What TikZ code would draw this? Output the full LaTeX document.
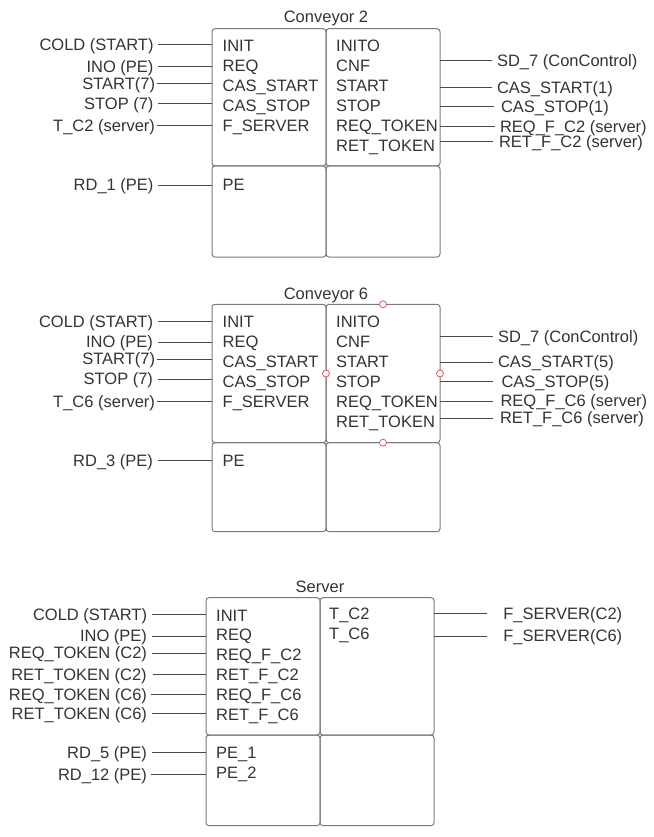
\documentclass[tikz,border=0pt]{standalone}
\usepackage{fontspec}
\setmainfont{Liberation Sans}
\definecolor{txt}{HTML}{333333}
\definecolor{wirec}{HTML}{4A4A4A}
\definecolor{boxc}{HTML}{7A7A7A}
\definecolor{hand}{HTML}{E8505B}
\begin{document}
\begin{tikzpicture}[x=1pt,y=-1pt,
  box/.style={draw=boxc,line width=1pt,rounded corners=3pt,inner sep=0pt,outer sep=0pt,minimum width=114pt,anchor=north west},
  lab/.style={font=\fontsize{16.5}{19}\selectfont,text=txt,inner sep=0pt,text height=11.8pt,text depth=0pt},
  lw/.style={lab,anchor=west},
  le/.style={lab,anchor=east,outer xsep=4.5pt},
  re/.style={lab,anchor=west,outer xsep=#1},
  wire/.style={draw=wirec,line width=1pt},
  handle/.style={circle,draw=hand,fill=white,line width=0.8pt,minimum size=7pt,inner sep=0pt}]
\useasboundingbox (0,0) rectangle (653,837);

% ================= Conveyor 2 =================
\node[lab] (t2) at (326,16.7) {Conveyor 2};
\node[box,minimum height=137.3pt] (c2a) at (212,28.7) {};
\node[box,minimum height=137.3pt] (c2b) at (326,28.7) {};
\node[box,minimum height=91pt] (c2c) at (212,166) {};
\node[box,minimum height=91pt] (c2d) at (326,166) {};

\node[lw] (c2i1) at (222.5,45.5) {INIT};
\node[lw] (c2i2) at (222.5,66) {REQ};
\node[lw] (c2i3) at (222.5,86) {CAS\_START};
\node[lw] (c2i4) at (222.5,106) {CAS\_STOP};
\node[lw] (c2i5) at (222.5,126) {F\_SERVER};
\node[lw] (c2i6) at (222.5,185) {PE};
\node[lw] (c2o1) at (336,45.5) {INITO};
\node[lw] (c2o2) at (336,66) {CNF};
\node[lw] (c2o3) at (336,86) {START};
\node[lw] (c2o4) at (336,106) {STOP};
\node[lw] (c2o5) at (336,126) {REQ\_TOKEN};
\node[lw] (c2o6) at (336,146) {RET\_TOKEN};

\node[le] (c2l1) at (158,45) {COLD (START)};
\node[le] (c2l2) at (158,67) {INO (PE)};
\node[le,outer xsep=2pt] (c2l3) at (157,84) {START(7)};
\node[le] (c2l4) at (158,104) {STOP (7)};
\node[le,outer xsep=2pt] (c2l5) at (157,126) {T\_C2 (server)};
\node[le] (c2l6) at (158,185) {RD\_1 (PE)};
\foreach \n in {1,...,5}{\draw[wire] (c2l\n.east) -- (c2l\n.east -| c2a.west);}
\draw[wire] (c2l6.east) -- (c2l6.east -| c2c.west);

\node[re=5pt] (c2r1) at (492,61) {SD\_7 (ConControl)};
\node[re=5pt] (c2r2) at (492,88) {CAS\_START(1)};
\node[re=7pt] (c2r3) at (494,106.7) {CAS\_STOP(1)};
\node[re=5pt] (c2r4) at (495,126.3) {REQ\_F\_C2 (server)};
\node[re=6pt] (c2r5) at (493,142) {RET\_F\_C2 (server)};
\foreach \n in {1,...,5}{\draw[wire] (c2r\n.west -| c2b.east) -- (c2r\n.west);}

% ================= Conveyor 6 =================
\node[lab] (t6) at (326,293.3) {Conveyor 6};
\node[box,minimum height=138.4pt] (c6a) at (212,304.3) {};
\node[box,minimum height=138.4pt] (c6b) at (326,304.3) {};
\node[box,minimum height=89pt] (c6c) at (212,442.7) {};
\node[box,minimum height=89pt] (c6d) at (326,442.7) {};

\node[lw] (c6i1) at (222.5,321.1) {INIT};
\node[lw] (c6i2) at (222.5,341.6) {REQ};
\node[lw] (c6i3) at (222.5,361.6) {CAS\_START};
\node[lw] (c6i4) at (222.5,381.6) {CAS\_STOP};
\node[lw] (c6i5) at (222.5,401.6) {F\_SERVER};
\node[lw] (c6i6) at (222.5,460.6) {PE};
\node[lw] (c6o1) at (336,321.1) {INITO};
\node[lw] (c6o2) at (336,341.6) {CNF};
\node[lw] (c6o3) at (336,361.6) {START};
\node[lw] (c6o4) at (336,381.6) {STOP};
\node[lw] (c6o5) at (336,401.6) {REQ\_TOKEN};
\node[lw] (c6o6) at (336,421.6) {RET\_TOKEN};

\node[le] (c6l1) at (157.5,321.5) {COLD (START)};
\node[le] (c6l2) at (157.5,342) {INO (PE)};
\node[le,outer xsep=2pt] (c6l3) at (157,359) {START(7)};
\node[le] (c6l4) at (157.5,379) {STOP (7)};
\node[le,outer xsep=2pt] (c6l5) at (157,401.5) {T\_C6 (server)};
\node[le] (c6l6) at (157.5,460.5) {RD\_3 (PE)};
\foreach \n in {1,...,5}{\draw[wire] (c6l\n.east) -- (c6l\n.east -| c6a.west);}
\draw[wire,line width=0.7pt] (c6l6.east) -- (c6l6.east -| c6c.west);

\node[re=5pt] (c6r1) at (493,336.7) {SD\_7 (ConControl)};
\node[re=5pt] (c6r2) at (493,362) {CAS\_START(5)};
\node[re=8.5pt] (c6r3) at (493,381.5) {CAS\_STOP(5)};
\node[re=7.5pt] (c6r4) at (493,401) {REQ\_F\_C6 (server)};
\node[re=7pt] (c6r5) at (493,418) {RET\_F\_C6 (server)};
\foreach \n in {1,...,5}{\draw[wire] (c6r\n.west -| c6b.east) -- (c6r\n.west);}

\node[handle] (h1) at (c6b.north) {};
\node[handle] (h2) at (c6b.west) {};
\node[handle] (h3) at (c6b.east) {};
\node[handle] (h4) at (c6b.south) {};

% ================= Server =================
\node[lab] (ts) at (320,586.7) {Server};
\node[box,minimum height=137.3pt] (sa) at (206,597.7) {};
\node[box,minimum height=137.3pt] (sb) at (320,597.7) {};
\node[box,minimum height=90.7pt] (sc) at (206,735) {};
\node[box,minimum height=90.7pt] (sd) at (320,735) {};

\node[lw] (si1) at (216,615.8) {INIT};
\node[lw] (si2) at (216,635) {REQ};
\node[lw] (si3) at (216,654.8) {REQ\_F\_C2};
\node[lw] (si4) at (216,674.2) {RET\_F\_C2};
\node[lw] (si5) at (216,694.2) {REQ\_F\_C6};
\node[lw] (si6) at (216,714.2) {RET\_F\_C6};
\node[lw] (si7) at (216,752.5) {PE\_1};
\node[lw] (si8) at (216,772.5) {PE\_2};
\node[lw] (so1) at (329,614) {T\_C2};
\node[lw] (so2) at (329,634) {T\_C6};

\node[le,outer xsep=5pt] (sl1) at (152,614.5) {COLD (START)};
\node[le,outer xsep=5pt] (sl2) at (152,636) {INO (PE)};
\node[le,outer xsep=5pt] (sl3) at (152,653) {REQ\_TOKEN (C2)};
\node[le,outer xsep=6pt] (sl4) at (152.7,674.5) {RET\_TOKEN (C2)};
\node[le,outer xsep=3.5pt] (sl5) at (150.5,694.5) {REQ\_TOKEN (C6)};
\node[le,outer xsep=5pt] (sl6) at (152,713.7) {RET\_TOKEN (C6)};
\node[le,outer xsep=5pt] (sl7) at (152,752.6) {RD\_5 (PE)};
\node[le,outer xsep=3.5pt] (sl8) at (150.5,774.5) {RD\_12 (PE)};
\foreach \n in {1,...,6}{\draw[wire] (sl\n.east) -- (sl\n.east -| sa.west);}
\foreach \n in {7,8}{\draw[wire] (sl\n.east) -- (sl\n.east -| sc.west);}

\node[re=16.3pt] (sr1) at (487,613.3) {F\_SERVER(C2)};
\node[re=16.3pt] (sr2) at (487,636) {F\_SERVER(C6)};
\foreach \n in {1,2}{\draw[wire,line width=0.7pt] (sr\n.west -| sb.east) -- (sr\n.west);}
\end{tikzpicture}
\end{document}
